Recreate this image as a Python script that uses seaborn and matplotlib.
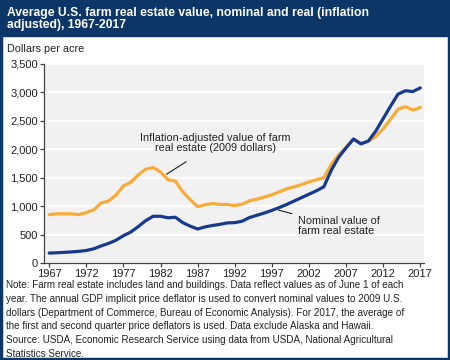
import numpy as np
import pandas as pd
import matplotlib
matplotlib.use("Agg")
import matplotlib.pyplot as plt
import seaborn as sns
from matplotlib.patches import Rectangle

years = list(range(1967, 2018))
nominal = [175, 180, 187, 195, 205, 220, 250, 300, 345, 400,
           480, 545, 640, 745, 822, 822, 795, 805, 710, 648,
           598, 635, 660, 680, 705, 710, 735, 800, 840, 880,
           925, 975, 1030, 1090, 1150, 1210, 1270, 1340, 1630, 1860,
           2025, 2180, 2095, 2145, 2320, 2540, 2760, 2970, 3030, 3015,
           3080]
real = [850, 865, 865, 865, 850, 885, 935, 1055, 1090, 1195,
        1355, 1420, 1550, 1650, 1680, 1600, 1465, 1440, 1250, 1115,
        990, 1025, 1045, 1030, 1030, 1010, 1035, 1095, 1125, 1160,
        1200, 1250, 1305, 1340, 1380, 1425, 1465, 1500, 1735, 1900,
        2035, 2180, 2105, 2140, 2225, 2360, 2530, 2705, 2750, 2690,
        2735]
xticks = list(range(1967, 2018, 5))
yticks = list(range(0, 3501, 500))

df = pd.DataFrame({"year": years * 2,
                   "value": real + nominal,
                   "series": ["Real"] * len(years) + ["Nominal"] * len(years)})

navy = "#0b3667"
pal = {"Real": "#f9ab38", "Nominal": "#173a8e"}
txt = "#222222"

sns.set_style("ticks")
plt.rcParams["font.family"] = ["Liberation Sans", "DejaVu Sans"]

fig = plt.figure(figsize=(4.5, 3.6), dpi=100)
ax = fig.add_axes([44 / 450, 1 - 263 / 360, 380 / 450, 199 / 360])
ax.set_facecolor("#f1f1f1")

sns.lineplot(data=df, x="year", y="value", hue="series", palette=pal,
             linewidth=2.3, ax=ax, legend=False)

ax.set_xlim(1966.3, 2017.5)
ax.set_ylim(0, 3500)
ax.set_xticks(xticks)
ax.set_yticks(yticks)
ax.set_yticklabels([f"{v:,}" for v in yticks])
ax.set_xlabel("")
ax.set_ylabel("")
ax.grid(axis="y", color="white", linewidth=1.2)
ax.set_axisbelow(True)
for s in ["top", "right"]:
    ax.spines[s].set_visible(False)
for s in ["left", "bottom"]:
    ax.spines[s].set_color("#444444")
    ax.spines[s].set_linewidth(0.9)
ax.tick_params(labelsize=8, length=3, width=0.9, color="#444444", pad=1.5,
               labelcolor=txt)

ax.annotate("Inflation-adjusted value of farm\nreal estate (2009 dollars)",
            xy=(1982.8, 1560), xytext=(1989.4, 2110), ha="center", va="center",
            fontsize=7.8, color=txt, linespacing=1.05,
            arrowprops=dict(arrowstyle="-", color=txt, lw=0.8,
                            shrinkA=7, shrinkB=0))
ax.annotate("Nominal value of\nfarm real estate",
            xy=(1997.9, 930), xytext=(2000.5, 650), ha="left", va="center",
            fontsize=7.8, color=txt, linespacing=1.05,
            arrowprops=dict(arrowstyle="-", color=txt, lw=0.8,
                            shrinkA=2, shrinkB=0))

# title band and frame
fig.patches.append(Rectangle((0, 1 - 36 / 360), 1, 36 / 360,
                             transform=fig.transFigure, color=navy, zorder=0))
fig.patches.append(Rectangle((0.003, 0.004), 0.994, 0.992, transform=fig.transFigure,
                             fill=False, edgecolor=navy, linewidth=2.5, zorder=5))
fig.text(7 / 450, 1 - 19 / 360,
         "Average U.S. farm real estate value, nominal and real (inflation\nadjusted), 1967-2017",
         color="white", fontsize=8.7, fontweight="bold", va="center", ha="left",
         linespacing=1.05)
fig.text(7 / 450, 1 - 49 / 360, "Dollars per acre", fontsize=7.8,
         color=txt, va="center", ha="left")

note = ("Note: Farm real estate includes land and buildings. Data reflect values as of June 1 of each\n"
        "year. The annual GDP implicit price deflator is used to convert nominal values to 2009 U.S.\n"
        "dollars (Department of Commerce, Bureau of Economic Analysis). For 2017, the average of\n"
        "the first and second quarter price deflators is used. Data exclude Alaska and Hawaii.\n"
        "Source: USDA, Economic Research Service using data from USDA, National Agricultural\n"
        "Statistics Service.")
fig.text(6 / 450, 1 - 280 / 360, note, fontsize=7.1, color=txt,
         va="top", ha="left", linespacing=1.47)

fig.savefig("out.png", dpi=100)
